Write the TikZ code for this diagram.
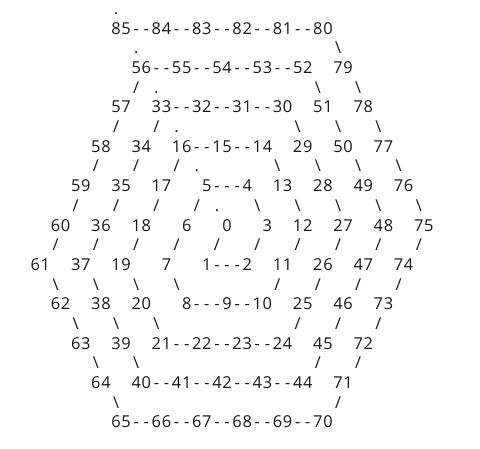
\documentclass[tikz,border=0pt]{standalone}
\usepackage{fontspec}
\newfontfamily\gridfont{Open Sans}
\newlength\cw \setlength\cw{10.09pt}
\def\gridend{GRIDEND}
\def\gridloop#1{\ifx\gridend#1\else\makebox[\cw][c]{#1}\expandafter\gridloop\fi}
\newcommand\gridtext[1]{\gridloop#1\gridend}
\newcommand\gx[1]{30.3+10.09*#1}
\newcommand\gy[1]{-34.3-19.67*(#1-1)}
\begin{document}
\begin{tikzpicture}[x=1pt,y=1pt,
  ch/.style={anchor=base west, inner sep=0pt, outer sep=0pt,
    font=\gridfont\fontsize{16.4}{18}\selectfont, text=black!90}]
\fill[white] (0,0) rectangle (480,-448);
\useasboundingbox (0,0) rectangle (480,-448);
% L0
\node[ch] (d0) at ({\gx{8}},{\gy{0}}) {\gridtext{.}};
% L1
\node[ch] (r85) at ({\gx{8}},{\gy{1}}) {\gridtext{85--84--83--82--81--80}};
% L2
\node[ch] (d2) at ({\gx{10}},{\gy{2}}) {\gridtext{.}};
\node[ch] (b2) at ({\gx{30}},{\gy{2}}) {\gridtext{\textbackslash}};
% L3
\node[ch] (r56) at ({\gx{10}},{\gy{3}}) {\gridtext{56--55--54--53--52}};
\node[ch] (n79) at ({\gx{30}},{\gy{3}}) {\gridtext{79}};
% L4
\node[ch] (s4a) at ({\gx{10}},{\gy{4}}) {\gridtext{/}};
\node[ch] (d4) at ({\gx{12}},{\gy{4}}) {\gridtext{.}};
\foreach \c in {28,32} \node[ch] (b4c\c) at ({\gx{\c}},{\gy{4}}) {\gridtext{\textbackslash}};
% L5
\node[ch] (n57) at ({\gx{8}},{\gy{5}}) {\gridtext{57}};
\node[ch] (r33) at ({\gx{12}},{\gy{5}}) {\gridtext{33--32--31--30}};
\node[ch] (n51) at ({\gx{28}},{\gy{5}}) {\gridtext{51}};
\node[ch] (n78) at ({\gx{32}},{\gy{5}}) {\gridtext{78}};
% L6
\foreach \c in {8,12} \node[ch] (s6c\c) at ({\gx{\c}},{\gy{6}}) {\gridtext{/}};
\node[ch] (d6) at ({\gx{14}},{\gy{6}}) {\gridtext{.}};
\foreach \c in {26,30,34} \node[ch] (b6c\c) at ({\gx{\c}},{\gy{6}}) {\gridtext{\textbackslash}};
% L7
\node[ch] (n58) at ({\gx{6}},{\gy{7}}) {\gridtext{58}};
\node[ch] (n34) at ({\gx{10}},{\gy{7}}) {\gridtext{34}};
\node[ch] (r16) at ({\gx{14}},{\gy{7}}) {\gridtext{16--15--14}};
\node[ch] (n29) at ({\gx{26}},{\gy{7}}) {\gridtext{29}};
\node[ch] (n50) at ({\gx{30}},{\gy{7}}) {\gridtext{50}};
\node[ch] (n77) at ({\gx{34}},{\gy{7}}) {\gridtext{77}};
% L8
\foreach \c in {6,10,14} \node[ch] (s8c\c) at ({\gx{\c}},{\gy{8}}) {\gridtext{/}};
\node[ch] (d8) at ({\gx{16}},{\gy{8}}) {\gridtext{.}};
\foreach \c in {24,28,32,36} \node[ch] (b8c\c) at ({\gx{\c}},{\gy{8}}) {\gridtext{\textbackslash}};
% L9
\node[ch] (n59) at ({\gx{4}},{\gy{9}}) {\gridtext{59}};
\node[ch] (n35) at ({\gx{8}},{\gy{9}}) {\gridtext{35}};
\node[ch] (n17) at ({\gx{12}},{\gy{9}}) {\gridtext{17}};
\node[ch] (r5) at ({\gx{17}},{\gy{9}}) {\gridtext{5---4}};
\node[ch] (n13) at ({\gx{24}},{\gy{9}}) {\gridtext{13}};
\node[ch] (n28) at ({\gx{28}},{\gy{9}}) {\gridtext{28}};
\node[ch] (n49) at ({\gx{32}},{\gy{9}}) {\gridtext{49}};
\node[ch] (n76) at ({\gx{36}},{\gy{9}}) {\gridtext{76}};
% L10
\foreach \c in {4,8,12,16} \node[ch] (s10c\c) at ({\gx{\c}},{\gy{10}}) {\gridtext{/}};
\node[ch] (d10) at ({\gx{18}},{\gy{10}}) {\gridtext{.}};
\foreach \c in {22,26,30,34,38} \node[ch] (b10c\c) at ({\gx{\c}},{\gy{10}}) {\gridtext{\textbackslash}};
% L11
\node[ch] (n60) at ({\gx{2}},{\gy{11}}) {\gridtext{60}};
\node[ch] (n36) at ({\gx{6}},{\gy{11}}) {\gridtext{36}};
\node[ch] (n18) at ({\gx{10}},{\gy{11}}) {\gridtext{18}};
\node[ch] (n6) at ({\gx{15}},{\gy{11}}) {\gridtext{6}};
\node[ch] (n0) at ({\gx{19}},{\gy{11}}) {\gridtext{0}};
\node[ch] (n3) at ({\gx{23}},{\gy{11}}) {\gridtext{3}};
\node[ch] (n12) at ({\gx{26}},{\gy{11}}) {\gridtext{12}};
\node[ch] (n27) at ({\gx{30}},{\gy{11}}) {\gridtext{27}};
\node[ch] (n48) at ({\gx{34}},{\gy{11}}) {\gridtext{48}};
\node[ch] (n75) at ({\gx{38}},{\gy{11}}) {\gridtext{75}};
% L12
\foreach \c in {2,6,10,14,18,22,26,30,34,38} \node[ch] (s12c\c) at ({\gx{\c}},{\gy{12}}) {\gridtext{/}};
% L13
\node[ch] (n61) at ({\gx{0}},{\gy{13}}) {\gridtext{61}};
\node[ch] (n37) at ({\gx{4}},{\gy{13}}) {\gridtext{37}};
\node[ch] (n19) at ({\gx{8}},{\gy{13}}) {\gridtext{19}};
\node[ch] (n7) at ({\gx{13}},{\gy{13}}) {\gridtext{7}};
\node[ch] (r1) at ({\gx{17}},{\gy{13}}) {\gridtext{1---2}};
\node[ch] (n11) at ({\gx{24}},{\gy{13}}) {\gridtext{11}};
\node[ch] (n26) at ({\gx{28}},{\gy{13}}) {\gridtext{26}};
\node[ch] (n47) at ({\gx{32}},{\gy{13}}) {\gridtext{47}};
\node[ch] (n74) at ({\gx{36}},{\gy{13}}) {\gridtext{74}};
% L14
\foreach \c in {2,6,10,14} \node[ch] (b14c\c) at ({\gx{\c}},{\gy{14}}) {\gridtext{\textbackslash}};
\foreach \c in {24,28,32,36} \node[ch] (s14c\c) at ({\gx{\c}},{\gy{14}}) {\gridtext{/}};
% L15
\node[ch] (n62) at ({\gx{2}},{\gy{15}}) {\gridtext{62}};
\node[ch] (n38) at ({\gx{6}},{\gy{15}}) {\gridtext{38}};
\node[ch] (n20) at ({\gx{10}},{\gy{15}}) {\gridtext{20}};
\node[ch] (r8) at ({\gx{15}},{\gy{15}}) {\gridtext{8---9--10}};
\node[ch] (n25) at ({\gx{26}},{\gy{15}}) {\gridtext{25}};
\node[ch] (n46) at ({\gx{30}},{\gy{15}}) {\gridtext{46}};
\node[ch] (n73) at ({\gx{34}},{\gy{15}}) {\gridtext{73}};
% L16
\foreach \c in {4,8,12} \node[ch] (b16c\c) at ({\gx{\c}},{\gy{16}}) {\gridtext{\textbackslash}};
\foreach \c in {26,30,34} \node[ch] (s16c\c) at ({\gx{\c}},{\gy{16}}) {\gridtext{/}};
% L17
\node[ch] (n63) at ({\gx{4}},{\gy{17}}) {\gridtext{63}};
\node[ch] (n39) at ({\gx{8}},{\gy{17}}) {\gridtext{39}};
\node[ch] (r21) at ({\gx{12}},{\gy{17}}) {\gridtext{21--22--23--24}};
\node[ch] (n45) at ({\gx{28}},{\gy{17}}) {\gridtext{45}};
\node[ch] (n72) at ({\gx{32}},{\gy{17}}) {\gridtext{72}};
% L18
\foreach \c in {6,10} \node[ch] (b18c\c) at ({\gx{\c}},{\gy{18}}) {\gridtext{\textbackslash}};
\foreach \c in {28,32} \node[ch] (s18c\c) at ({\gx{\c}},{\gy{18}}) {\gridtext{/}};
% L19
\node[ch] (n64) at ({\gx{6}},{\gy{19}}) {\gridtext{64}};
\node[ch] (r40) at ({\gx{10}},{\gy{19}}) {\gridtext{40--41--42--43--44}};
\node[ch] (n71) at ({\gx{30}},{\gy{19}}) {\gridtext{71}};
% L20
\node[ch] (b20) at ({\gx{8}},{\gy{20}}) {\gridtext{\textbackslash}};
\node[ch] (s20) at ({\gx{30}},{\gy{20}}) {\gridtext{/}};
% L21
\node[ch] (r65) at ({\gx{8}},{\gy{21}}) {\gridtext{65--66--67--68--69--70}};
\end{tikzpicture}
\end{document}
